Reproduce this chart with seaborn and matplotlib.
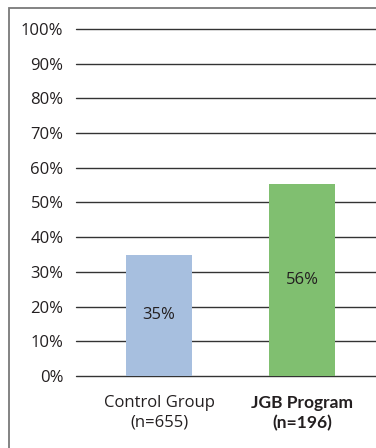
import matplotlib
matplotlib.use("Agg")
import matplotlib.pyplot as plt
import seaborn as sns
import pandas as pd
from matplotlib.patches import Rectangle
from matplotlib import font_manager as fm

categories = ["Control Group\n(n=655)", "JGB Program\n(n=196)"]
values = [34.9, 55.4]
value_labels = ["35%", "56%"]
colors = ["#A7BFDF", "#80BF70"]
yticks = [0, 10, 20, 30, 40, 50, 60, 70, 80, 90, 100]

sns.set_style("white")
plt.rcParams["font.family"] = ["Open Sans", "DejaVu Sans"]

bold_fp = fm.FontProperties(family=["Lato", "DejaVu Sans"], weight="bold", size=12.5)
reg_fp = fm.FontProperties(family=["Open Sans", "DejaVu Sans"], size=12)

fig = plt.figure(figsize=(3.76, 4.48), dpi=100)
ax = fig.add_axes([76/376, 72/448, 1 - 76/376, 347/448])

df = pd.DataFrame({"cat": categories, "val": values})
sns.barplot(data=df, x="cat", y="val", hue="cat", palette=colors, width=0.46,
            legend=False, ax=ax, zorder=3, saturation=1, edgecolor="none", linewidth=0)

ax.set_xlim(-0.58, 1.517)
ax.set_ylim(0, 100)
ax.set_yticks(yticks)
ax.set_yticklabels([f"{t}%" for t in yticks], fontsize=12, color="#231F20")
ax.yaxis.grid(True, color="#333333", linewidth=1.0, zorder=0)
for gl in ax.get_ygridlines():
    gl.set_clip_on(False)
ax.set_axisbelow(True)
for s in ax.spines.values():
    s.set_visible(False)
ax.tick_params(axis="y", length=0, pad=9)
ax.tick_params(axis="x", length=0, pad=14)
ax.set_xlabel("")
ax.set_ylabel("")
ax.set_xticks([0, 1])
ax.set_xticklabels(categories)
labels = ax.get_xticklabels()
for i, lab in enumerate(labels):
    lab.set_color("#231F20")
    if i == 1:
        lab.set_fontproperties(bold_fp)
        lab.set_linespacing(1.3)
    else:
        lab.set_fontproperties(reg_fp)
        lab.set_linespacing(1.25)

for i, (v, t) in enumerate(zip(values, value_labels)):
    ax.text(i, v / 2, t, ha="center", va="center", fontproperties=reg_fp,
            color="#231F20", zorder=4)

fig.patches.append(Rectangle((9/376, -0.5), 2, 0.5 + 1 - 8/448, transform=fig.transFigure,
                             fill=False, edgecolor="#7a7a7a", linewidth=1.3))

fig.savefig("out.png", dpi=100)
